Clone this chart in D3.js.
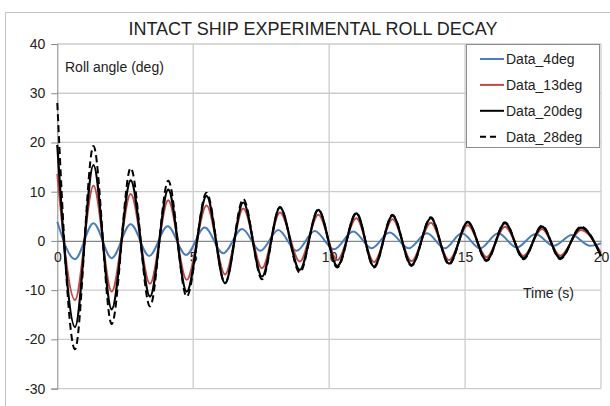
<!DOCTYPE html>
<html>
<head>
<meta charset="utf-8">
<script src="https://cdn.jsdelivr.net/npm/d3@7"></script>
<style>
  html, body { margin: 0; padding: 0; background: #fff; }
  svg { display: block; font-family: "Liberation Sans", Arial, sans-serif; }
</style>
</head>
<body>
<svg id="chart" width="610" height="406"></svg>
<script>
// Roll decay records: turning points (time in s, roll angle in deg) of each run
const timesSmall = [0, 0.65, 1.33, 2.0, 2.70, 3.38, 4.06, 4.74, 5.42, 6.10, 6.80, 7.47, 8.13, 8.80, 9.47, 10.18,
  10.89, 11.56, 12.23, 12.92, 13.60, 14.25, 14.88, 15.55, 16.22, 16.90, 17.59, 18.26, 18.93, 19.60, 20.0];
const data4deg = [3.9, -3.7, 3.6, -3.5, 3.4, -3.05, 3.0, -2.85, 2.7, -2.5, 2.4, -2.0, 2.2, -2.0, 2.0, -1.7,
  1.9, -1.5, 1.7, -1.5, 1.55, -1.5, 1.55, -1.5, 1.55, -1.35, 1.4, -1.0, 1.2, -1.0, -0.5];

const timesLarge = [0, 0.65, 1.33, 2.0, 2.70, 3.41, 4.08, 4.76, 5.49, 6.17, 6.84, 7.53, 8.19, 8.92, 9.60, 10.30,
  11.0, 11.65, 12.33, 13.03, 13.74, 14.41, 15.10, 15.79, 16.47, 17.15, 17.83, 18.50, 19.26, 20.0];
const data13deg = [13.6, -12.0, 11.2, -10.3, 9.55, -8.7, 8.25, -7.9, 7.2, -6.8, 6.6, -5.55, 5.75, -4.2, 5.3, -3.9,
  4.6, -4.3, 4.4, -4.1, 3.7, -3.9, 3.2, -3.3, 2.9, -3.05, 2.4, -3.0, 2.2, -2.4];
const data20deg = [19.5, -17.5, 15.4, -13.9, 12.3, -11.3, 10.4, -10.3, 9.15, -8.6, 7.8, -7.25, 6.8, -5.9, 6.3, -5.1,
  5.6, -5.2, 5.15, -4.9, 4.6, -4.6, 3.8, -3.9, 3.6, -3.5, 2.9, -3.5, 2.7, -3.0];
const data28deg = [28.0, -22.0, 19.3, -16.9, 14.8, -13.3, 12.2, -11.3, 9.8, -8.6, 8.5, -7.8, 6.9, -6.4, 6.4, -5.4,
  5.7, -5.4, 5.3, -5.1, 4.8, -4.8, 3.9, -4.1, 3.8, -3.7, 3.1, -3.7, 2.9, -3.1];

const seriesNames = ["Data_4deg", "Data_13deg", "Data_20deg", "Data_28deg"];
const yTicks = [-30, -20, -10, 0, 10, 20, 30, 40];
const xTicks = [0, 5, 10, 15, 20];

const series = [
  { name: seriesNames[0], t: timesSmall, v: data4deg, color: "#4a7ebb", width: 2, dash: null },
  { name: seriesNames[1], t: timesLarge, v: data13deg, color: "#be4b48", width: 2, dash: null },
  { name: seriesNames[2], t: timesLarge, v: data20deg, color: "#000000", width: 2.2, dash: null },
  { name: seriesNames[3], t: timesLarge, v: data28deg, color: "#000000", width: 2, dash: "7,4" }
];

const svg = d3.select("#chart");
const x = d3.scaleLinear().domain([0, 20]).range([57.3, 601]);
const y = d3.scaleLinear().domain([-30, 40]).range([388.6, 44]);
const plain = d => String(d);   // hyphen-minus labels

// outer chart frame
svg.append("rect").attr("x", 5.5).attr("y", 12.5).attr("width", 640).attr("height", 440)
  .attr("fill", "none").attr("stroke", "#c4c4c4").attr("stroke-width", 1);

// title
svg.append("text").attr("x", 313).attr("y", 35).attr("text-anchor", "middle")
  .attr("font-size", 18).attr("fill", "#222").text("INTACT SHIP EXPERIMENTAL ROLL DECAY");

// horizontal gridlines
svg.append("g").selectAll("line").data(yTicks.filter(d => d !== 0)).join("line")
  .attr("x1", x(0)).attr("x2", x(20)).attr("y1", d => y(d)).attr("y2", d => y(d))
  .attr("stroke", "#cccccc").attr("stroke-width", 1.3);
// vertical gridlines
svg.append("g").selectAll("line").data(xTicks.filter(d => d !== 0)).join("line")
  .attr("x1", d => x(d)).attr("x2", d => x(d)).attr("y1", y(40)).attr("y2", y(-30))
  .attr("stroke", "#cccccc").attr("stroke-width", 1.3);

// y axis
const yAxis = svg.append("g").attr("transform", `translate(${x(0)},0)`)
  .call(d3.axisLeft(y).tickValues(yTicks).tickSize(6).tickPadding(6).tickFormat(plain));
yAxis.select(".domain").attr("stroke", "#888");
yAxis.selectAll(".tick line").attr("stroke", "#888");
yAxis.selectAll(".tick text").attr("font-size", 14).attr("fill", "#222")
  .attr("font-family", "Liberation Sans, Arial, sans-serif");

// x axis along zero line
const xAxis = svg.append("g").attr("transform", `translate(0,${y(0)})`)
  .call(d3.axisBottom(x).tickValues(xTicks).tickSize(0).tickPadding(11).tickFormat(plain));
xAxis.select(".domain").attr("stroke", "#888").attr("stroke-width", 1.3);
xAxis.selectAll(".tick text").attr("font-size", 14).attr("fill", "#222")
  .attr("font-family", "Liberation Sans, Arial, sans-serif");

// axis titles
svg.append("text").attr("x", 65).attr("y", 72).attr("font-size", 14).attr("fill", "#222").text("Roll angle (deg)");
svg.append("text").attr("x", 523).attr("y", 298).attr("font-size", 14).attr("fill", "#222").text("Time (s)");

// series curves
const line = d3.line().x(d => x(d[0])).y(d => y(d[1])).curve(d3.curveMonotoneX);
svg.append("g").selectAll("path").data(series).join("path")
  .attr("d", s => line(s.t.map((t, i) => [t, s.v[i]])))
  .attr("fill", "none").attr("stroke", s => s.color).attr("stroke-width", s => s.width)
  .attr("stroke-dasharray", s => s.dash).attr("stroke-linejoin", "round");

// legend
const lg = svg.append("g");
lg.append("rect").attr("x", 466.5).attr("y", 44.5).attr("width", 133).attr("height", 103)
  .attr("fill", "#fff").attr("stroke", "#8c8c8c");
const item = lg.selectAll("g").data(series).join("g")
  .attr("transform", (d, i) => `translate(0,${59 + i * 25.9})`);
item.append("line").attr("x1", 480).attr("x2", d => d.dash ? 497 : 504).attr("y1", 0).attr("y2", 0)
  .attr("stroke", d => d.color).attr("stroke-width", 2).attr("stroke-dasharray", d => d.dash ? "6,4" : null);
item.append("text").attr("x", 506).attr("y", 5).attr("font-size", 14).attr("fill", "#222").text(d => d.name);
</script>
</body>
</html>
